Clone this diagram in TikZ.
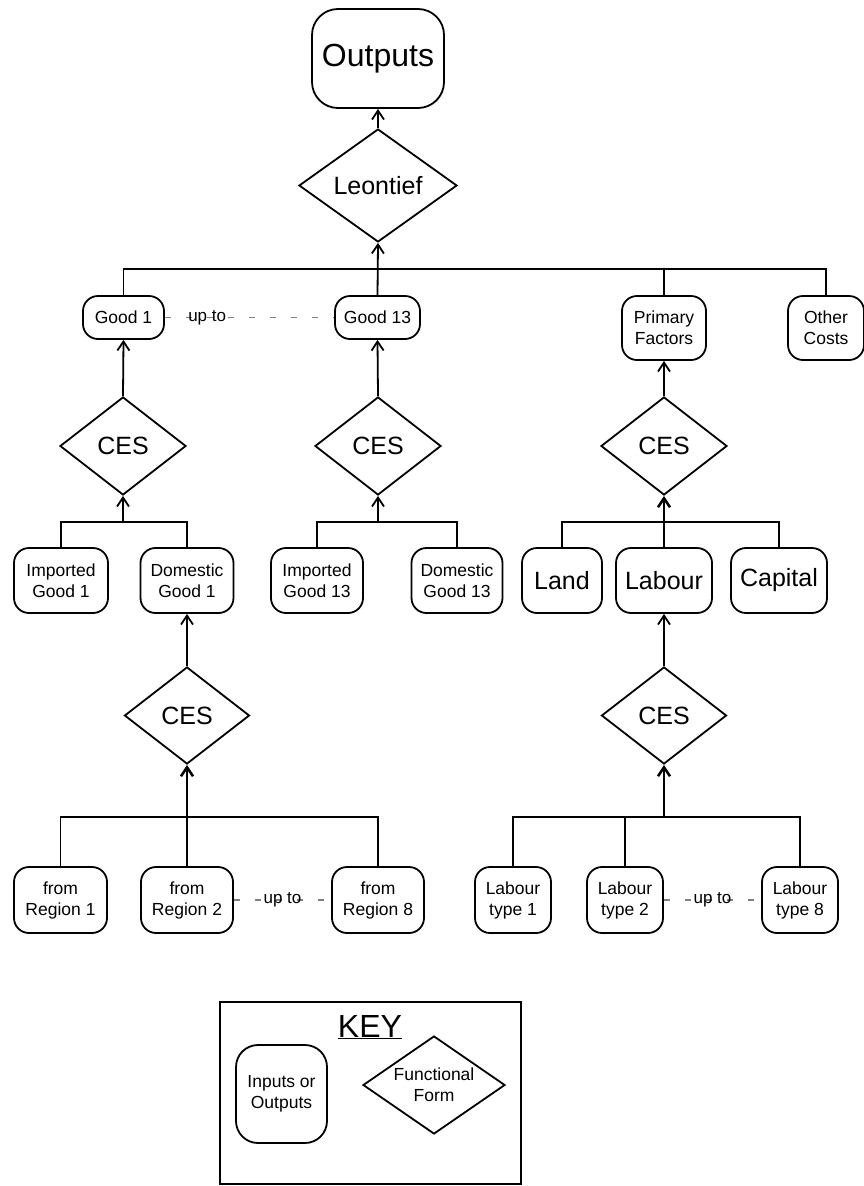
\documentclass[tikz,border=0pt]{standalone}
\usepackage{fontspec}
\setmainfont{Liberation Sans}
\usetikzlibrary{shapes.geometric,arrows.meta}

\tikzset{
  iobox/.style={draw,line width=1.8pt,rounded corners=15pt,align=center,inner sep=0pt,
    font=\fontsize{17.5pt}{21pt}\selectfont},
  formbox/.style={draw,diamond,aspect=1.3,line width=1.8pt,inner sep=0pt,
    minimum width=126pt,minimum height=98pt,font=\fontsize{25pt}{28pt}\selectfont},
  bigtext/.style={font=\fontsize{25pt}{28pt}\selectfont},
  link/.style={line width=1.8pt},
  fat/.style={line width=2.6pt},
  feed/.style={link,-{Straight Barb[length=9pt,width=12pt]}},
  upto/.style={gray,line width=1.2pt,dash pattern=on 6pt off 15pt},
  uptext/.style={black,font=\fontsize{17pt}{20pt}\selectfont,inner sep=0pt},
}

\begin{document}
\begin{tikzpicture}[x=1pt,y=-1pt]
\useasboundingbox (0,0) rectangle (863,1186);

\node[iobox,minimum width=132pt,minimum height=99pt,rounded corners=26pt,
  font=\fontsize{32pt}{36pt}\selectfont] (outputs) at (378,58.5) {Outputs};
\node[formbox,aspect=1.4,minimum width=158pt,minimum height=113pt] (leontief) at (378,185.5) {Leontief};

\node[iobox,minimum width=81pt,minimum height=43pt] (good1) at (123.5,317.5) {Good 1};
\node[iobox,minimum width=85pt,minimum height=43pt] (good13) at (377.5,317.5) {Good 13};
\node[iobox,minimum width=84pt,minimum height=64pt] (primary) at (664,328) {Primary\\Factors};
\node[iobox,minimum width=76pt,minimum height=64pt] (costs) at (826,328) {Other\\Costs};

\node[formbox] (ces1) at (123,446) {CES};
\node[formbox] (ces13) at (378,446) {CES};
\node[formbox] (cespf) at (664,446) {CES};

\node[iobox,minimum width=94pt,minimum height=65pt] (imp1) at (61,580.5) {Imported\\Good 1};
\node[iobox,minimum width=93pt,minimum height=65pt] (dom1) at (187,580.5) {Domestic\\Good 1};
\node[iobox,minimum width=92pt,minimum height=65pt] (imp13) at (317,580.5) {Imported\\Good 13};
\node[iobox,minimum width=91pt,minimum height=65pt] (dom13) at (457,580.5) {Domestic\\Good 13};
\node[iobox,bigtext,minimum width=80pt,minimum height=65pt] (land) at (562,580.5) {Land};
\node[iobox,bigtext,minimum width=96pt,minimum height=65pt] (labour) at (664,580.5) {Labour};
\node[iobox,bigtext,minimum width=96pt,minimum height=65pt] (capital) at (779,580.5) {Capital};

\node[formbox,minimum width=125pt,minimum height=97pt] (cesdom) at (187,715.5) {CES};
\node[formbox,minimum width=125pt,minimum height=97pt] (ceslab) at (664,715.5) {CES};

\node[iobox,minimum width=93pt,minimum height=66pt] (reg1) at (60.5,900) {from\\Region 1};
\node[iobox,minimum width=92pt,minimum height=66pt] (reg2) at (187,900) {from\\Region 2};
\node[iobox,minimum width=92pt,minimum height=66pt] (reg8) at (378,900) {from\\Region 8};
\node[iobox,minimum width=76pt,minimum height=66pt] (lab1) at (513,900) {Labour\\type 1};
\node[iobox,minimum width=76pt,minimum height=66pt] (lab2) at (625,900) {Labour\\type 2};
\node[iobox,minimum width=76pt,minimum height=66pt] (lab8) at (800,900) {Labour\\type 8};

\coordinate (topbus) at (378,269);
\coordinate (bus1) at (123,522);
\coordinate (bus13) at (378,522);
\coordinate (buspf) at (664,522);
\coordinate (busreg) at (187,817);
\coordinate (buslab) at (664,817);

\draw[feed] (leontief.north) -- (outputs.south);
\draw[link] (good1.north) |- (topbus) -| (costs.north);
\draw[link,fat] (topbus) -| (primary.north);
\draw[feed] (good13.north) -- (leontief.south);

\draw[feed] (ces1.north) -- (good1.south);
\draw[feed] (ces13.north) -- (good13.south);
\draw[feed] (cespf.north) -- (primary.south);

\draw[link] (imp1.north) |- (bus1) -| (dom1.north);
\draw[feed] (bus1) -- (ces1.south);
\draw[link] (imp13.north) |- (bus13) -| (dom13.north);
\draw[feed] (bus13) -- (ces13.south);
\draw[link] (land.north) |- (buspf) -| (capital.north);
\draw[link] (labour.north) -- (buspf);
\draw[feed,fat] (buspf) -- (cespf.south);

\draw[feed] (cesdom.north) -- (dom1.south);
\draw[feed] (ceslab.north) -- (labour.south);

\draw[link] (reg1.north) |- (busreg) -| (reg8.north);
\draw[link] (reg2.north) -- (busreg);
\draw[feed,fat] (busreg) -- (cesdom.south);
\draw[link] (lab1.north) |- (buslab) -| (lab8.north);
\draw[link,fat] (lab2.north) |- (buslab);
\draw[feed,fat] (buslab) -- (ceslab.south);

\draw[upto] (good1.east) -- node[pos=0.25,uptext] (upgoods) {up to} (good13.west);
\draw[upto] (reg2.east) -- node[uptext] (upreg) {up to} (reg8.west);
\draw[upto] (lab2.east) -- node[uptext] (uplab) {up to} (lab8.west);

\node[draw,line width=1.8pt,minimum width=301pt,minimum height=182pt] (keyframe) at (370.5,1093) {};
\node[anchor=base,inner sep=0pt,font=\fontsize{32pt}{36pt}\selectfont] (keytitle) at (370,1037) {\underline{KEY}};
\node[iobox,minimum width=91pt,minimum height=98pt,rounded corners=22pt] (keyio) at (281.5,1094) {Inputs or\\Outputs};
\node[formbox,aspect=1.45,minimum width=142pt,minimum height=98pt,
  font=\fontsize{17.5pt}{21pt}\selectfont,align=center] (keyform) at (434,1085) {Functional\\Form};

\end{tikzpicture}
\end{document}
